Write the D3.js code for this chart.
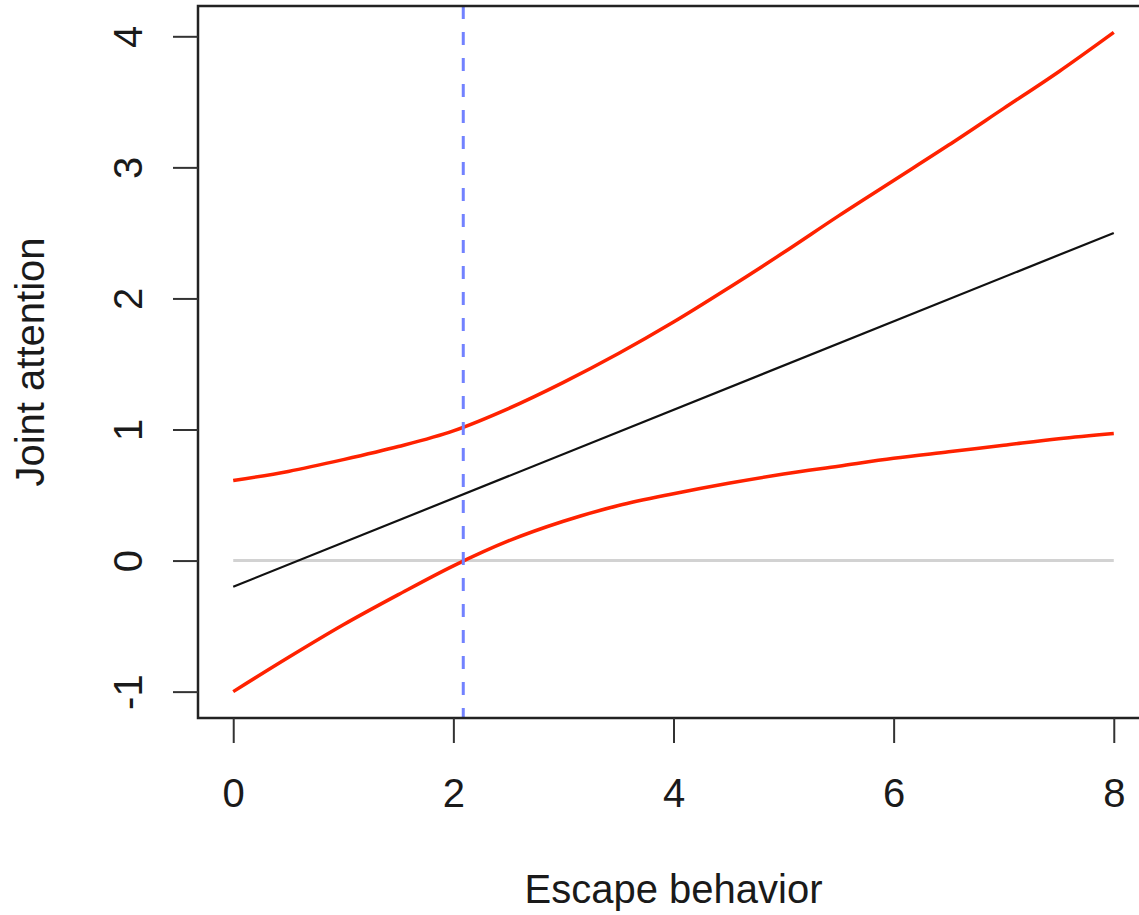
<!DOCTYPE html>
<html>
<head>
<meta charset="utf-8">
<script src="https://cdn.jsdelivr.net/npm/d3@7"></script>
<style>
    body { margin: 0; background: #fff; }
    svg { display: block; }
    text { font-family: "Liberation Sans", Arial, Helvetica, sans-serif; fill: #1a1a1a; }
</style>
</head>
<body>
<svg id="canvas" width="1139" height="915"></svg>
<script>
// values
const xs = [0, 0.5, 1, 1.5, 2, 2.5, 3, 3.5, 4, 4.5, 5, 5.5, 6, 6.5, 7, 7.5, 8];
const upperBand = [0.61, 0.68, 0.77, 0.87, 0.99, 1.16, 1.36, 1.58, 1.82, 2.08, 2.35, 2.63, 2.90, 3.17, 3.45, 3.73, 4.03];
const lowerBand = [-1.00, -0.74, -0.49, -0.26, -0.04, 0.15, 0.30, 0.42, 0.51, 0.59, 0.66, 0.72, 0.78, 0.83, 0.88, 0.93, 0.97];
const slopeX = [0, 8];
const slopeY = [-0.2, 2.5];
const jnPoint = 2.09;
const xTicks = [0, 2, 4, 6, 8];
const yTicks = [-1, 0, 1, 2, 3, 4];
const xTitle = 'Escape behavior';
const yTitle = 'Joint attention';

const canvas = d3.select('#canvas');

// plot region (R style, axis ranges padded by 4%)
const pLeft = 198, pRight = 1149, pTop = 6, pBottom = 718;
const xmin = d3.min(xs), xmax = d3.max(xs);
const ymin = d3.min(lowerBand), ymax = d3.max(upperBand);
const xpad = (xmax - xmin) * 0.04, ypad = (ymax - ymin) * 0.04;

const xScale = d3.scaleLinear()
    .domain([xmin - xpad, xmax + xpad])
    .range([pLeft, pRight]);
const yScale = d3.scaleLinear()
    .domain([ymin - ypad, ymax + ypad])
    .range([pBottom, pTop]);

const line = d3.line()
    .x(d => xScale(d[0]))
    .y(d => yScale(d[1]))
    .curve(d3.curveMonotoneX);

// zero reference line
canvas.append('path')
    .datum([[xmin, 0], [xmax, 0]])
    .attr('d', line)
    .attr('fill', 'none')
    .attr('stroke', '#d2d2d2')
    .attr('stroke-width', 3);

// simple slope
canvas.append('path')
    .datum(slopeX.map((x, i) => [x, slopeY[i]]))
    .attr('d', line)
    .attr('fill', 'none')
    .attr('stroke', '#111')
    .attr('stroke-width', 2.2);

// confidence bands
for (let band of [upperBand, lowerBand]) {
    canvas.append('path')
        .datum(xs.map((x, i) => [x, band[i]]))
        .attr('d', line)
        .attr('fill', 'none')
        .attr('stroke', '#ff2200')
        .attr('stroke-width', 3.5);
}

// Johnson-Neyman point
canvas.append('line')
    .attr('x1', xScale(jnPoint))
    .attr('x2', xScale(jnPoint))
    .attr('y1', pTop)
    .attr('y2', pBottom)
    .attr('stroke', '#7282ff')
    .attr('stroke-width', 3)
    .attr('stroke-dasharray', '13,13');

// box
canvas.append('rect')
    .attr('x', pLeft)
    .attr('y', pTop)
    .attr('width', pRight - pLeft)
    .attr('height', pBottom - pTop)
    .attr('fill', 'none')
    .attr('stroke', '#222')
    .attr('stroke-width', 2.5);

// axes (plain hyphen for negatives, like R)
const fmt = d => String(d);

const xAxis = canvas.append('g')
    .attr('transform', `translate(0,${pBottom})`)
    .call(d3.axisBottom(xScale).tickValues(xTicks).tickSize(25).tickPadding(36).tickFormat(fmt));
xAxis.select('.domain').remove();
xAxis.selectAll('line').attr('stroke', '#333').attr('stroke-width', 2);
xAxis.selectAll('text')
    .attr('font-size', 40)
    .attr('font-family', '"Liberation Sans", Arial, sans-serif')
    .attr('fill', '#1a1a1a');

const yAxis = canvas.append('g')
    .attr('transform', `translate(${pLeft},0)`)
    .call(d3.axisLeft(yScale).tickValues(yTicks).tickSize(25).tickFormat(fmt));
yAxis.select('.domain').remove();
yAxis.selectAll('line').attr('stroke', '#333').attr('stroke-width', 2);
yAxis.selectAll('text')
    .attr('x', null)
    .attr('dy', null)
    .attr('transform', 'translate(-56,0) rotate(-90)')
    .attr('text-anchor', 'middle')
    .attr('font-size', 40)
    .attr('font-family', '"Liberation Sans", Arial, sans-serif')
    .attr('fill', '#1a1a1a');

// titles
canvas.append('text')
    .attr('x', (pLeft + pRight) / 2)
    .attr('y', 903)
    .attr('text-anchor', 'middle')
    .attr('font-size', 40)
    .text(xTitle);

canvas.append('text')
    .attr('transform', `translate(44,${(pTop + pBottom) / 2}) rotate(-90)`)
    .attr('text-anchor', 'middle')
    .attr('font-size', 40)
    .text(yTitle);
</script>
</body>
</html>
